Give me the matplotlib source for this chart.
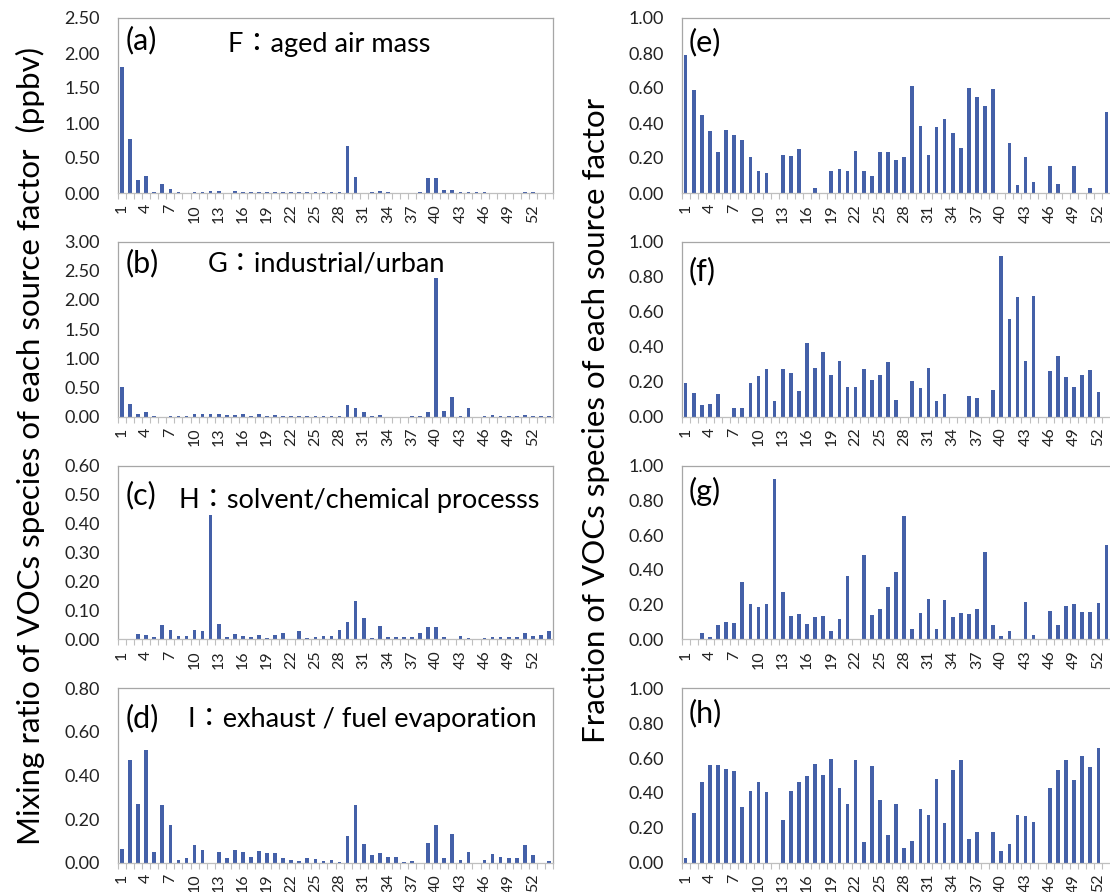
import matplotlib
matplotlib.use("Agg")
import matplotlib.pyplot as plt
from matplotlib.ticker import FormatStrFormatter, MultipleLocator

plt.rcParams["font.family"] = ["Lato", "Noto Sans CJK TC", "DejaVu Sans"]

# mixing ratio (ppbv) of the 54 VOC species for each factor
mix_F = [1.80, 0.765, 0.19, 0.245, 0.015, 0.135, 0.06, 0.01, 0.005, 0.015,
         0.01, 0.025, 0.03, 0.005, 0.025, 0.01, 0.01, 0.01, 0.01, 0.015,
         0.015, 0.01, 0.01, 0.01, 0.01, 0.01, 0.01, 0.015, 0.675, 0.235,
         0.005, 0.01, 0.025, 0.01, 0, 0, 0, 0.01, 0.22, 0.22,
         0.04, 0.05, 0.01, 0.01, 0.01, 0.01, 0.005, 0.005, 0.005, 0.005,
         0.01, 0.01, 0.005, 0.005]
mix_G = [0.505, 0.21, 0.035, 0.07, 0.01, 0, 0.01, 0.01, 0.01, 0.035,
         0.035, 0.035, 0.045, 0.02, 0.02, 0.035, 0.015, 0.035, 0.015, 0.03,
         0.01, 0.01, 0.01, 0.01, 0.01, 0.01, 0.01, 0.005, 0.195, 0.14,
         0.08, 0.015, 0.025, 0, 0, 0, 0.01, 0.01, 0.075, 2.37,
         0.10, 0.34, 0.015, 0.145, 0, 0.01, 0.02, 0.01, 0.01, 0.01,
         0.03, 0.01, 0.005, 0.01]
mix_H = [0, 0, 0.017, 0.013, 0.007, 0.048, 0.031, 0.012, 0.010, 0.033,
         0.030, 0.428, 0.051, 0.007, 0.017, 0.010, 0.006, 0.014, 0.005, 0.014,
         0.023, 0, 0.028, 0.005, 0.008, 0.010, 0.011, 0.033, 0.058, 0.131,
         0.072, 0.005, 0.045, 0.007, 0.006, 0.006, 0.007, 0.022, 0.043, 0.043,
         0.009, 0, 0.011, 0.004, 0, 0.004, 0.006, 0.009, 0.009, 0.007,
         0.023, 0.012, 0.015, 0.028]
mix_I = [0.063, 0.47, 0.269, 0.519, 0.049, 0.263, 0.173, 0.012, 0.023, 0.081,
         0.060, 0, 0.047, 0.021, 0.057, 0.050, 0.026, 0.055, 0.044, 0.046,
         0.023, 0.014, 0.008, 0.020, 0.015, 0.006, 0.011, 0.005, 0.122, 0.263,
         0.084, 0.034, 0.043, 0.026, 0.024, 0.005, 0.006, 0, 0.089, 0.173,
         0.020, 0.133, 0.014, 0.050, 0, 0.011, 0.040, 0.024, 0.020, 0.021,
         0.080, 0.035, 0, 0.008]

# fraction of each species attributed to the factor
frac_F = [0.788, 0.587, 0.444, 0.354, 0.235, 0.359, 0.333, 0.302, 0.208, 0.124,
          0.115, 0, 0.220, 0.212, 0.250, 0, 0.031, 0, 0.124, 0.136,
          0.128, 0.239, 0.124, 0.099, 0.235, 0.235, 0.187, 0.206, 0.614, 0.382,
          0.218, 0.377, 0.421, 0.342, 0.260, 0.602, 0.547, 0.497, 0.595, 0.002,
          0.285, 0.048, 0.208, 0.063, 0, 0.153, 0.050, 0, 0.157, 0,
          0.029, 0, 0.463]
frac_G = [0.192, 0.133, 0.063, 0.074, 0.130, 0, 0.048, 0.046, 0.190, 0.232,
          0.270, 0.086, 0.269, 0.250, 0.147, 0.421, 0.280, 0.368, 0.236, 0.320,
          0.170, 0.170, 0.269, 0.208, 0.236, 0.309, 0.093, 0, 0.202, 0.162,
          0.280, 0.090, 0.128, 0, 0, 0.120, 0.105, 0, 0.152, 0.918,
          0.560, 0.682, 0.316, 0.688, 0, 0.261, 0.345, 0.227, 0.171, 0.236,
          0.265, 0.141, 0]
frac_H = [0, 0, 0.033, 0.015, 0.081, 0.102, 0.094, 0.330, 0.205, 0.186,
          0.205, 0.921, 0.271, 0.131, 0.144, 0.086, 0.129, 0.132, 0.050, 0.117,
          0.367, 0, 0.488, 0.140, 0.175, 0.298, 0.386, 0.710, 0.061, 0.152,
          0.232, 0.058, 0.228, 0.129, 0.152, 0.144, 0.175, 0.503, 0.083, 0.017,
          0.048, 0, 0.213, 0.023, 0, 0.165, 0.081, 0.192, 0.205, 0.157,
          0.159, 0.207, 0.541]
frac_I = [0.025, 0.283, 0.463, 0.560, 0.560, 0.539, 0.526, 0.321, 0.413, 0.461,
          0.403, 0, 0.243, 0.413, 0.463, 0.499, 0.566, 0.503, 0.595, 0.426,
          0.337, 0.591, 0.120, 0.556, 0.358, 0.161, 0.337, 0.084, 0.124, 0.306,
          0.273, 0.482, 0.226, 0.530, 0.587, 0.138, 0.174, 0, 0.174, 0.069,
          0.107, 0.272, 0.266, 0.233, 0, 0.426, 0.532, 0.587, 0.472, 0.614,
          0.547, 0.656, 0]

mix_series = [mix_F, mix_G, mix_H, mix_I]
frac_series = [frac_F, frac_G, frac_H, frac_I]
mix_panels = ["(a)", "(b)", "(c)", "(d)"]
frac_panels = ["(e)", "(f)", "(g)", "(h)"]
factor_names = ["F\uff1aaged air mass", "G\uff1aindustrial/urban",
                "H\uff1asolvent/chemical processs", "I\uff1aexhaust / fuel evaporation"]
mix_ymax = [2.5, 3.0, 0.6, 0.8]
mix_ystep = [0.5, 0.5, 0.1, 0.2]
n_species = 54
tick_species = list(range(1, n_species + 1, 3))

bar_color = "#4460a8"
frame_color = "#a6a6a6"

W, H = 1110, 892
fig = plt.figure(figsize=(W / 100, H / 100), dpi=100)

rows = [(18, 193), (241.7, 416.5), (465.7, 639.2), (688.3, 862.7)]
title_x = [0.253, 0.207, 0.14, 0.16]
title_y = [0.846, 0.87, 0.80, 0.82]
label_y = [0.874, 0.88, 0.83, 0.83]
frac_label_y = [0.86, 0.83, 0.85, 0.86]


def style_axis(ax, ymax, ystep):
    ax.set_xlim(0.5, n_species + 0.5)
    ax.set_ylim(0, ymax)
    ax.yaxis.set_major_locator(MultipleLocator(ystep))
    ax.yaxis.set_major_formatter(FormatStrFormatter("%.2f"))
    ax.tick_params(axis="y", length=0, pad=13, labelsize=13, colors="#222222")
    ax.set_xticks(tick_species)
    ax.set_xticklabels([str(t) for t in tick_species], rotation=90)
    ax.set_xticks([i + 0.5 for i in range(n_species + 1)], minor=True)
    ax.tick_params(axis="x", which="major", length=0, pad=8, labelsize=11.5, colors="#222222")
    ax.tick_params(axis="x", which="minor", length=4, width=0.8, color="#bfbfbf")
    for s in ax.spines.values():
        s.set_color(frame_color)
        s.set_linewidth(0.9)
    ax.spines["bottom"].set_color("#bfbfbf")


for k in range(4):
    top, bottom = rows[k]
    ax = fig.add_axes([118 / W, (H - bottom) / H, 435 / W, (bottom - top) / H])
    ax.bar(range(1, len(mix_series[k]) + 1), mix_series[k], width=0.45, color=bar_color)
    style_axis(ax, mix_ymax[k], mix_ystep[k])
    ax.text(0.018, label_y[k], mix_panels[k], transform=ax.transAxes,
            fontsize=22, va="center", ha="left")
    ax.text(title_x[k], title_y[k], factor_names[k], transform=ax.transAxes,
            fontsize=19.5, va="center", ha="left")

    ax2 = fig.add_axes([681.6 / W, (H - bottom) / H, 437 / W, (bottom - top) / H])
    ax2.bar(range(1, len(frac_series[k]) + 1), frac_series[k], width=0.45, color=bar_color)
    style_axis(ax2, 1.0, 0.2)
    ax2.text(0.015, frac_label_y[k], frac_panels[k], transform=ax2.transAxes,
             fontsize=22, va="center", ha="left")

fig.text(30 / W, (H - 446) / H, "Mixing ratio of VOCs species of each source factor  (ppbv)",
         rotation=90, fontsize=22.5, va="center", ha="center")
fig.text(596 / W, (H - 420) / H, "Fraction of VOCs species of each source factor",
         rotation=90, fontsize=22.5, va="center", ha="center")

fig.savefig("out.png", dpi=100)
